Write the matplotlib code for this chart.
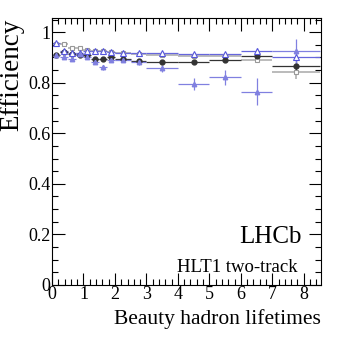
import numpy as np
import matplotlib.pyplot as plt
from matplotlib.ticker import MultipleLocator

plt.rcParams['font.family'] = ['Liberation Serif', 'DejaVu Serif']

# bins (beauty hadron lifetimes)
x = [0.125, 0.375, 0.625, 0.875, 1.125, 1.375, 1.625, 1.875,
     2.25, 2.75, 3.5, 4.5, 5.5, 6.5, 7.75]
xerr = [0.125, 0.125, 0.125, 0.125, 0.125, 0.125, 0.125, 0.125,
        0.25, 0.25, 0.5, 0.5, 0.5, 0.5, 0.75]

# black filled circles
eff_circ = [0.909, 0.920, 0.915, 0.910, 0.911, 0.895, 0.894, 0.900,
            0.894, 0.885, 0.882, 0.880, 0.891, 0.907, 0.866]
err_circ = [0.004, 0.004, 0.004, 0.004, 0.004, 0.004, 0.004, 0.004,
            0.004, 0.004, 0.005, 0.006, 0.008, 0.010, 0.020]

# grey open squares
eff_sq = [0.953, 0.955, 0.937, 0.936, 0.929, 0.927, 0.924, 0.920,
          0.916, 0.913, 0.910, 0.905, 0.905, 0.891, 0.844]
err_sq = [0.004, 0.004, 0.004, 0.004, 0.004, 0.004, 0.004, 0.004,
          0.004, 0.004, 0.006, 0.007, 0.010, 0.015, 0.030]

# blue open triangles
eff_tri = [0.958, 0.925, 0.918, 0.918, 0.925, 0.926, 0.925, 0.922,
           0.917, 0.916, 0.916, 0.913, 0.913, 0.924, 0.900]
err_tri = [0.004, 0.004, 0.004, 0.004, 0.004, 0.004, 0.004, 0.004,
           0.004, 0.004, 0.005, 0.006, 0.008, 0.012, 0.020]

# blue filled triangles
eff_ftri = [0.910, 0.900, 0.893, 0.912, 0.900, 0.882, 0.862, 0.890,
            0.890, 0.883, 0.857, 0.795, 0.822, 0.765, 0.924]
err_ftri = [0.006, 0.007, 0.008, 0.008, 0.008, 0.009, 0.010, 0.010,
            0.010, 0.012, 0.015, 0.022, 0.030, 0.055, 0.050]

fig = plt.figure(figsize=(3.49, 3.38), dpi=100)
ax = fig.add_axes([0.149, 0.157, 0.771, 0.789])

ax.errorbar(x, eff_sq, yerr=err_sq, xerr=xerr, fmt='s', mfc='white', mec='#999999',
            ms=3.5, color='#bbbbbb', elinewidth=1.4, capsize=0, mew=0.8)
ax.errorbar(x, eff_circ, yerr=err_circ, xerr=xerr, fmt='o', color='#333333',
            ms=3.5, elinewidth=0.9, capsize=0)
ax.errorbar(x, eff_tri, yerr=err_tri, xerr=xerr, fmt='^', mfc='white', mec='#5555dd',
            ms=4.5, color='#6666dd', elinewidth=0.9, capsize=0, mew=0.8)
ax.errorbar(x, eff_ftri, yerr=err_ftri, xerr=xerr, fmt='^', color='#8080e0',
            ms=3.2, elinewidth=0.9, capsize=0)

ax.set_xlim(0, 8.55)
ax.set_ylim(0, 1.055)
ax.xaxis.set_major_locator(MultipleLocator(1))
ax.xaxis.set_minor_locator(MultipleLocator(0.2))
ax.yaxis.set_major_locator(MultipleLocator(0.2))
ax.yaxis.set_minor_locator(MultipleLocator(0.05))
ax.tick_params(which='both', direction='in', top=True, right=True, labelsize=13)
ax.tick_params(which='major', length=9, width=0.8)
ax.tick_params(which='minor', length=4.5, width=0.8)
ax.tick_params(axis='x', pad=1)
ax.tick_params(axis='y', pad=1)
ax.set_yticks([0, 0.2, 0.4, 0.6, 0.8, 1.0])
ax.set_yticklabels(['0', '0.2', '0.4', '0.6', '0.8', '1'])

ax.set_ylabel('Efficiency', fontsize=19.5, loc='top', labelpad=3)
ax.set_xlabel('Beauty hadron lifetimes', fontsize=15.5, loc='right', labelpad=4)

ax.text(0.929, 0.157, 'LHCb', transform=ax.transAxes, fontsize=18, ha='right', va='baseline')
ax.text(0.914, 0.067, 'HLT1 two-track', transform=ax.transAxes, fontsize=13.5, ha='right', va='center')

fig.savefig('out.png', dpi=100)
